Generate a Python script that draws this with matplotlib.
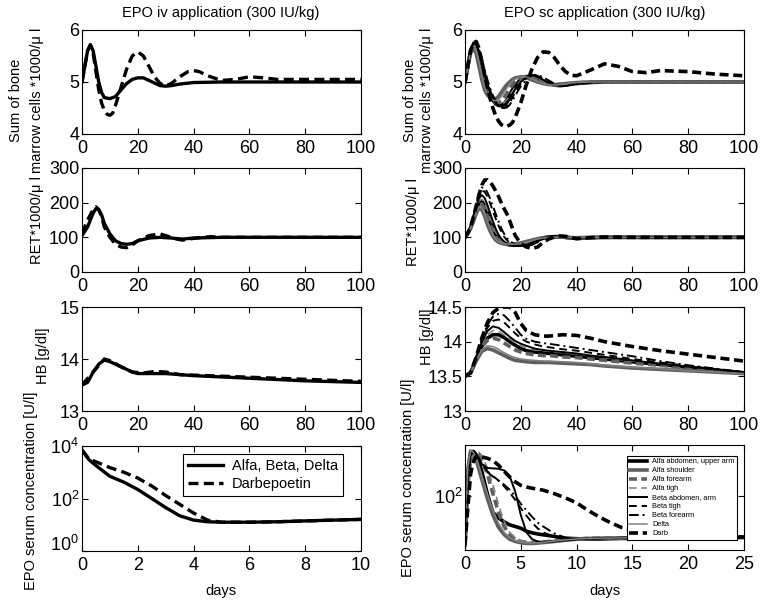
import matplotlib
matplotlib.use("Agg")
import matplotlib.pyplot as plt

plt.rcParams['font.family'] = ['Liberation Sans', 'DejaVu Sans']
plt.rcParams['mathtext.fontset'] = 'custom'
plt.rcParams['mathtext.rm'] = 'Liberation Sans'
plt.rcParams['mathtext.it'] = 'Liberation Sans:italic'

# ---------------- data: iv application (left column) ----------------
bm_iv_t_solid = [0, 1, 2, 3, 4, 5, 6, 7, 8, 10, 12, 14, 16, 18, 20, 22, 24, 26, 28, 30, 32, 35, 40, 50, 100]
bm_iv_solid = [5.0, 5.3, 5.6, 5.72, 5.6, 5.3, 5.0, 4.8, 4.7, 4.68, 4.72, 4.85, 4.97, 5.05, 5.08, 5.08, 5.03, 4.98, 4.93, 4.92, 4.93, 4.96, 4.99, 5.0, 5.0]
bm_iv_t_dash = [0, 1, 2, 3, 4, 5, 6, 7, 8, 9, 10, 11, 12, 14, 16, 18, 20, 22, 24, 26, 28, 30, 32, 35, 38, 40, 42, 45, 50, 55, 60, 65, 70, 80, 100]
bm_iv_dash = [5.0, 5.3, 5.6, 5.7, 5.55, 5.2, 4.85, 4.6, 4.45, 4.38, 4.36, 4.4, 4.55, 4.9, 5.25, 5.5, 5.58, 5.5, 5.3, 5.1, 4.97, 4.93, 4.97, 5.1, 5.2, 5.22, 5.2, 5.12, 5.03, 5.05, 5.1, 5.08, 5.05, 5.05, 5.05]

ret_iv_t_solid = [0, 2, 4, 5, 6, 7, 8, 10, 12, 14, 16, 18, 20, 24, 28, 32, 36, 40, 50, 100]
ret_iv_solid = [105, 130, 170, 183, 180, 165, 140, 110, 90, 82, 80, 82, 90, 98, 100, 98, 95, 98, 100, 100]
ret_iv_t_dash = [0, 2, 4, 5, 6, 7, 8, 10, 12, 14, 16, 18, 20, 24, 28, 30, 34, 36, 40, 46, 50, 100]
ret_iv_dash = [110, 150, 180, 188, 180, 160, 130, 100, 80, 72, 70, 78, 90, 105, 110, 105, 95, 92, 97, 102, 100, 100]

hb_iv_t_solid = [0, 2, 4, 6, 8, 10, 14, 18, 20, 25, 30, 40, 60, 80, 100]
hb_iv_solid = [13.5, 13.55, 13.75, 13.9, 13.98, 13.95, 13.85, 13.75, 13.72, 13.72, 13.72, 13.68, 13.63, 13.58, 13.55]
hb_iv_t_dash = [0, 4, 8, 10, 14, 18, 22, 26, 30, 35, 40, 60, 80, 100]
hb_iv_dash = [13.5, 13.75, 14.0, 13.97, 13.85, 13.75, 13.73, 13.76, 13.75, 13.7, 13.69, 13.65, 13.61, 13.57]

epo_iv_t = [0, 0.25, 0.5, 1, 1.5, 2, 2.5, 3, 3.5, 4, 4.5, 5, 6, 7, 8, 9, 10]
epo_iv_solid = [7000, 3000, 1800, 700, 420, 220, 100, 45, 22, 15, 13, 12.5, 12.5, 13, 14, 15, 16]
epo_iv_dash = [7000, 3200, 2500, 1500, 1000, 600, 300, 130, 60, 28, 15, 12.5, 12.5, 13, 14, 15, 16]

# ---------------- data: sc application (right column) ----------------
sc_names = ['Alfa abdomen, upper arm', 'Alfa shoulder', 'Alfa forearm', 'Alfa tigh',
            'Beta abdomen, arm', 'Beta tigh', 'Beta forearm', 'Delta', 'Darb']

bm_sc_t = [0, 1, 2, 3, 4, 5, 6, 7, 8, 9, 10, 11, 12, 13, 14, 15, 16, 17, 18, 20, 22, 24, 26, 28, 30,
           32, 34, 36, 38, 40, 45, 50, 55, 60, 65, 70, 80, 90, 100]
bm_sc = {
    'Alfa abdomen, upper arm': [5.0, 5.3, 5.6, 5.72, 5.7, 5.55, 5.3, 5.1, 4.9, 4.75, 4.65, 4.58, 4.55, 4.55, 4.58, 4.65, 4.75, 4.85, 4.93, 5.05, 5.1, 5.12, 5.08, 5.02, 4.97, 4.94, 4.93, 4.94, 4.96, 4.97, 4.99, 5.0, 5.0, 5.0, 5.0, 5.0, 5.0, 5.0, 5.0],
    'Alfa shoulder': [5.0, 5.3, 5.55, 5.65, 5.55, 5.3, 5.05, 4.85, 4.75, 4.7, 4.67, 4.68, 4.72, 4.8, 4.88, 4.95, 5.0, 5.05, 5.08, 5.1, 5.08, 5.04, 5.0, 4.97, 4.95, 4.95, 4.96, 4.97, 4.98, 4.99, 5.0, 5.0, 5.0, 5.0, 5.0, 5.0, 5.0, 5.0, 5.0],
    'Alfa forearm': [5.0, 5.3, 5.6, 5.7, 5.65, 5.45, 5.2, 5.0, 4.85, 4.72, 4.64, 4.6, 4.6, 4.63, 4.7, 4.78, 4.87, 4.95, 5.01, 5.08, 5.11, 5.09, 5.04, 4.99, 4.96, 4.94, 4.94, 4.95, 4.97, 4.98, 5.0, 5.0, 5.0, 5.0, 5.0, 5.0, 5.0, 5.0, 5.0],
    'Alfa tigh': [5.0, 5.3, 5.6, 5.72, 5.68, 5.5, 5.28, 5.06, 4.9, 4.76, 4.66, 4.6, 4.57, 4.57, 4.6, 4.66, 4.74, 4.83, 4.91, 5.03, 5.1, 5.11, 5.07, 5.01, 4.97, 4.94, 4.93, 4.94, 4.96, 4.97, 4.99, 5.0, 5.0, 5.0, 5.0, 5.0, 5.0, 5.0, 5.0],
    'Beta abdomen, arm': [5.0, 5.3, 5.62, 5.74, 5.72, 5.58, 5.36, 5.14, 4.95, 4.8, 4.68, 4.6, 4.55, 4.53, 4.54, 4.58, 4.66, 4.76, 4.86, 5.0, 5.1, 5.13, 5.1, 5.04, 4.98, 4.94, 4.93, 4.93, 4.95, 4.97, 4.99, 5.0, 5.0, 5.0, 5.0, 5.0, 5.0, 5.0, 5.0],
    'Beta tigh': [5.0, 5.3, 5.62, 5.75, 5.75, 5.62, 5.42, 5.2, 5.0, 4.84, 4.7, 4.6, 4.53, 4.5, 4.5, 4.53, 4.6, 4.7, 4.8, 4.97, 5.08, 5.14, 5.12, 5.06, 5.0, 4.95, 4.93, 4.93, 4.95, 4.97, 4.99, 5.0, 5.0, 5.0, 5.0, 5.0, 5.0, 5.0, 5.0],
    'Beta forearm': [5.0, 5.3, 5.63, 5.76, 5.76, 5.65, 5.46, 5.25, 5.05, 4.88, 4.74, 4.63, 4.55, 4.51, 4.5, 4.51, 4.56, 4.64, 4.74, 4.92, 5.05, 5.13, 5.14, 5.09, 5.03, 4.97, 4.94, 4.93, 4.94, 4.96, 4.99, 5.0, 5.0, 5.0, 5.0, 5.0, 5.0, 5.0, 5.0],
    'Delta': [5.0, 5.3, 5.58, 5.68, 5.6, 5.38, 5.12, 4.9, 4.78, 4.7, 4.65, 4.64, 4.66, 4.72, 4.8, 4.88, 4.96, 5.02, 5.06, 5.1, 5.1, 5.06, 5.01, 4.97, 4.95, 4.94, 4.95, 4.96, 4.98, 4.99, 5.0, 5.0, 5.0, 5.0, 5.0, 5.0, 5.0, 5.0, 5.0],
    'Darb': [5.0, 5.3, 5.6, 5.75, 5.78, 5.65, 5.4, 5.15, 4.9, 4.68, 4.5, 4.35, 4.25, 4.18, 4.15, 4.15, 4.17, 4.22, 4.32, 4.6, 4.95, 5.25, 5.47, 5.58, 5.57, 5.47, 5.32, 5.2, 5.13, 5.12, 5.23, 5.35, 5.3, 5.2, 5.18, 5.22, 5.2, 5.15, 5.12],
}

ret_sc_t = [0, 1, 2, 3, 4, 5, 6, 7, 8, 9, 10, 11, 12, 13, 14, 15, 16, 18, 20, 22, 24, 26, 28, 30, 32,
            34, 36, 38, 40, 45, 50, 60, 70, 80, 90, 100]
ret_sc = {
    'Alfa abdomen, upper arm': [100, 112, 128, 152, 180, 200, 204, 192, 170, 146, 125, 108, 96, 88, 83, 80, 78, 77, 78, 82, 88, 94, 98, 101, 102, 102, 100, 98, 97, 99, 100, 100, 100, 100, 100, 100],
    'Alfa shoulder': [100, 112, 125, 145, 168, 184, 180, 162, 138, 118, 103, 92, 86, 83, 81, 80, 80, 81, 84, 88, 92, 96, 99, 100, 101, 101, 100, 99, 99, 100, 100, 100, 100, 100, 100, 100],
    'Alfa forearm': [100, 112, 128, 150, 176, 194, 196, 182, 160, 137, 117, 102, 92, 86, 82, 80, 79, 78, 80, 84, 89, 94, 98, 100, 101, 101, 100, 99, 98, 99, 100, 100, 100, 100, 100, 100],
    'Alfa tigh': [100, 112, 128, 152, 182, 204, 210, 200, 180, 156, 133, 114, 100, 90, 84, 80, 78, 76, 77, 80, 86, 93, 98, 101, 102, 102, 100, 98, 97, 99, 100, 100, 100, 100, 100, 100],
    'Beta abdomen, arm': [100, 112, 130, 156, 188, 212, 222, 214, 194, 170, 146, 125, 108, 96, 88, 82, 78, 75, 75, 78, 84, 92, 98, 102, 103, 102, 100, 98, 97, 99, 100, 100, 100, 100, 100, 100],
    'Beta tigh': [100, 112, 130, 158, 192, 220, 234, 232, 218, 198, 176, 154, 134, 116, 102, 92, 85, 78, 75, 75, 80, 88, 96, 101, 104, 103, 101, 98, 97, 99, 100, 100, 100, 100, 100, 100],
    'Beta forearm': [100, 112, 131, 160, 196, 228, 244, 242, 230, 212, 190, 168, 146, 126, 110, 98, 89, 80, 76, 75, 78, 86, 95, 101, 104, 104, 101, 98, 97, 99, 100, 100, 100, 100, 100, 100],
    'Delta': [100, 112, 127, 148, 172, 188, 186, 168, 145, 124, 107, 95, 88, 84, 82, 81, 80, 80, 82, 86, 91, 95, 98, 100, 101, 101, 100, 99, 99, 100, 100, 100, 100, 100, 100, 100],
    'Darb': [100, 112, 130, 158, 190, 222, 250, 265, 266, 260, 248, 234, 218, 200, 183, 168, 148, 105, 82, 72, 68, 72, 85, 95, 101, 104, 103, 99, 96, 99, 101, 100, 100, 100, 100, 100],
}

hb_sc_t = [0, 2, 4, 6, 8, 10, 12, 14, 16, 18, 20, 22, 25, 28, 30, 35, 40, 45, 50, 60, 70, 80, 90, 100]
hb_sc = {
    'Alfa abdomen, upper arm': [13.5, 13.55, 13.74, 13.93, 14.05, 14.1, 14.1, 14.06, 14.0, 13.95, 13.9, 13.87, 13.85, 13.84, 13.83, 13.81, 13.79, 13.77, 13.75, 13.71, 13.67, 13.63, 13.59, 13.55],
    'Alfa shoulder': [13.5, 13.55, 13.72, 13.86, 13.9, 13.88, 13.84, 13.8, 13.76, 13.73, 13.72, 13.71, 13.7, 13.7, 13.7, 13.69, 13.68, 13.67, 13.65, 13.62, 13.6, 13.58, 13.56, 13.54],
    'Alfa forearm': [13.5, 13.55, 13.74, 13.92, 14.02, 14.05, 14.03, 13.98, 13.93, 13.88, 13.85, 13.83, 13.81, 13.8, 13.8, 13.78, 13.77, 13.75, 13.73, 13.69, 13.66, 13.62, 13.59, 13.55],
    'Alfa tigh': [13.5, 13.55, 13.75, 13.96, 14.1, 14.16, 14.15, 14.1, 14.04, 13.98, 13.94, 13.91, 13.88, 13.87, 13.86, 13.84, 13.82, 13.8, 13.77, 13.72, 13.68, 13.64, 13.6, 13.56],
    'Beta abdomen, arm': [13.5, 13.55, 13.76, 13.99, 14.15, 14.22, 14.2, 14.14, 14.07, 14.01, 13.97, 13.94, 13.9, 13.88, 13.87, 13.85, 13.83, 13.8, 13.78, 13.73, 13.68, 13.64, 13.6, 13.56],
    'Beta tigh': [13.5, 13.55, 13.77, 14.02, 14.2, 14.3, 14.32, 14.28, 14.2, 14.12, 14.05, 14.0, 13.96, 13.93, 13.92, 13.89, 13.87, 13.84, 13.81, 13.75, 13.7, 13.65, 13.6, 13.56],
    'Beta forearm': [13.5, 13.55, 13.78, 14.04, 14.24, 14.36, 14.4, 14.38, 14.3, 14.2, 14.1, 14.04, 14.0, 13.98, 13.97, 13.94, 13.91, 13.88, 13.85, 13.79, 13.72, 13.66, 13.61, 13.56],
    'Delta': [13.5, 13.55, 13.73, 13.88, 13.94, 13.93, 13.89, 13.84, 13.8, 13.77, 13.75, 13.74, 13.73, 13.72, 13.72, 13.71, 13.7, 13.68, 13.66, 13.63, 13.61, 13.58, 13.56, 13.54],
    'Darb': [13.5, 13.55, 13.78, 14.05, 14.27, 14.42, 14.48, 14.5, 14.5, 14.42, 14.26, 14.16, 14.1, 14.08, 14.08, 14.1, 14.09, 14.05, 14.0, 13.93, 13.87, 13.82, 13.77, 13.72],
}

epo_sc_t = [0, 0.25, 0.5, 0.75, 1, 1.25, 1.5, 2, 2.5, 3, 3.5, 4, 4.5, 5, 5.5, 6, 6.5, 7, 8, 9, 10,
            11, 12, 13, 14, 15, 16, 18, 20, 22, 25]
epo_sc = {
    'Alfa abdomen, upper arm': [13, 250, 600, 640, 560, 420, 280, 110, 50, 40, 34, 30, 28, 26, 23, 21.5, 20.5, 19.8, 18.5, 17.2, 16.8, 16.6, 16.6, 16.8, 17, 17, 17.2, 17.3, 17.5, 17.6, 17.8],
    'Alfa shoulder': [13, 300, 650, 600, 450, 300, 200, 90, 45, 27, 20, 16.5, 15, 14.2, 13.8, 13.8, 14, 14.3, 15, 15.8, 16.5, 17, 17.2, 17.3, 17.4, 17.5, 17.5, 17.5, 17.5, 17.6, 17.8],
    'Alfa forearm': [13, 150, 450, 600, 620, 560, 450, 250, 110, 50, 28, 20, 16.5, 15, 14.5, 14.3, 14.4, 14.7, 15.3, 16, 16.6, 17, 17.2, 17.3, 17.4, 17.5, 17.5, 17.5, 17.5, 17.6, 17.8],
    'Alfa tigh': [13, 120, 400, 580, 640, 620, 540, 330, 160, 70, 35, 22, 17.5, 15.5, 14.8, 14.5, 14.5, 14.8, 15.3, 16, 16.6, 17, 17.2, 17.3, 17.4, 17.5, 17.5, 17.5, 17.5, 17.6, 17.8],
    'Beta abdomen, arm': [13, 250, 620, 650, 560, 450, 380, 320, 315, 310, 290, 230, 120, 45, 22, 16.5, 15, 14.8, 15, 15.7, 16.4, 16.8, 17.1, 17.3, 17.4, 17.5, 17.5, 17.5, 17.5, 17.6, 17.8],
    'Beta tigh': [13, 200, 550, 620, 600, 480, 380, 280, 230, 190, 150, 115, 85, 60, 44, 33, 26, 22, 18, 16.5, 16.4, 16.8, 17.1, 17.3, 17.4, 17.5, 17.5, 17.5, 17.5, 17.6, 17.8],
    'Beta forearm': [13, 180, 500, 600, 560, 460, 380, 270, 224, 190, 160, 130, 100, 72, 55, 42, 33, 28, 21, 17.5, 16.5, 16.8, 17.1, 17.3, 17.4, 17.5, 17.5, 17.5, 17.5, 17.6, 17.8],
    'Delta': [13, 320, 660, 620, 480, 340, 230, 110, 55, 32, 22, 17.5, 15.5, 14.5, 14, 14, 14.2, 14.5, 15.2, 16, 16.6, 17, 17.2, 17.3, 17.4, 17.5, 17.5, 17.5, 17.5, 17.6, 17.8],
    'Darb': [13, 60, 250, 420, 520, 540, 510, 480, 440, 360, 280, 220, 180, 155, 145, 138, 132, 127, 110, 92, 75, 55, 42, 33, 27, 24, 22, 20, 19, 18.5, 18],
}

# ---------------- styles ----------------
G1 = '#5f5f5f'
G2 = '#7f7f7f'
styles = {
    'Alfa abdomen, upper arm': dict(color='black', lw=2.6, ls='-'),
    'Alfa shoulder': dict(color=G1, lw=2.6, ls='-'),
    'Alfa forearm': dict(color=G1, lw=2.6, ls=(0, (2.2, 1.2))),
    'Alfa tigh': dict(color=G2, lw=1.1, ls=(0, (5, 3))),
    'Beta abdomen, arm': dict(color='black', lw=1.4, ls='-'),
    'Beta tigh': dict(color='black', lw=1.4, ls=(0, (4, 2.5))),
    'Beta forearm': dict(color='black', lw=1.4, ls=(0, (5, 2, 1, 2))),
    'Delta': dict(color=G2, lw=1.1, ls='-'),
    'Darb': dict(color='black', lw=2.6, ls=(0, (2.5, 1.3))),
}

W, H = 760, 606
fig = plt.figure(figsize=(W / 100, H / 100), dpi=100)


def add_ax(x0, x1, ytop, ybot):
    return fig.add_axes([x0 / W, 1 - ybot / H, (x1 - x0) / W, (ybot - ytop) / H])


def style_ax(ax):
    ax.tick_params(direction='in', top=True, right=True, length=4, width=0.8,
                   labelsize=13)
    ax.tick_params(axis='y', pad=2)
    ax.tick_params(axis='x', pad=4.5)
    for s in ax.spines.values():
        s.set_linewidth(0.8)


LX0, LX1 = 82, 361
RX0, RX1 = 465, 744
rows = [(30, 134), (168, 272), (307, 411), (446, 551)]
DASH = (0, (3, 1.6))

# left column
ax = add_ax(LX0, LX1, *rows[0])
ax.plot(bm_iv_t_solid, bm_iv_solid, color='black', lw=2.4)
ax.plot(bm_iv_t_dash, bm_iv_dash, color='black', lw=2.4, ls=DASH)
ax.set_xlim(0, 100); ax.set_ylim(4, 6); ax.set_yticks([4, 5, 6]); ax.set_xticks(range(0, 101, 20))
style_ax(ax)

ax = add_ax(LX0, LX1, *rows[1])
ax.plot(ret_iv_t_solid, ret_iv_solid, color='black', lw=2.4)
ax.plot(ret_iv_t_dash, ret_iv_dash, color='black', lw=2.4, ls=DASH)
ax.set_xlim(0, 100); ax.set_ylim(0, 300); ax.set_yticks([0, 100, 200, 300]); ax.set_xticks(range(0, 101, 20))
style_ax(ax)

ax = add_ax(LX0, LX1, *rows[2])
ax.plot(hb_iv_t_solid, hb_iv_solid, color='black', lw=2.4)
ax.plot(hb_iv_t_dash, hb_iv_dash, color='black', lw=2.4, ls=DASH)
ax.set_xlim(0, 100); ax.set_ylim(13, 15); ax.set_yticks([13, 14, 15]); ax.set_xticks(range(0, 101, 20))
style_ax(ax)

ax = add_ax(LX0, LX1, *rows[3])
ax.semilogy(epo_iv_t, epo_iv_solid, color='black', lw=2.4, label='Alfa, Beta, Delta')
ax.semilogy(epo_iv_t, epo_iv_dash, color='black', lw=2.4, ls=DASH, label='Darbepoetin')
ax.set_xlim(0, 10); ax.set_ylim(1, 1e4)
ax.set_yticks([1, 100, 1e4]); ax.set_yticklabels(['$10^{0}$', '$10^{2}$', '$10^{4}$'])
ax.minorticks_off()
ax.set_xticks(range(0, 11, 2))
style_ax(ax)
ax.yaxis.get_major_ticks()[0].label1.set_va('baseline')
leg = ax.legend(loc='upper right', bbox_to_anchor=(0.935, 0.925), borderaxespad=0,
                fontsize=10.5, frameon=True,
                fancybox=False, edgecolor='black', framealpha=1, handlelength=2.4,
                borderpad=0.35, labelspacing=0.25, handletextpad=0.6)
leg.get_frame().set_linewidth(0.8)

# right column
ax = add_ax(RX0, RX1, *rows[0])
for n in sc_names:
    ax.plot(bm_sc_t, bm_sc[n], **styles[n])
ax.set_xlim(0, 100); ax.set_ylim(4, 6); ax.set_yticks([4, 5, 6]); ax.set_xticks(range(0, 101, 20))
style_ax(ax)

ax = add_ax(RX0, RX1, *rows[1])
for n in sc_names:
    ax.plot(ret_sc_t, ret_sc[n], **styles[n])
ax.set_xlim(0, 100); ax.set_ylim(0, 300); ax.set_yticks([0, 100, 200, 300]); ax.set_xticks(range(0, 101, 20))
style_ax(ax)

ax = add_ax(RX0, RX1, *rows[2])
for n in sc_names:
    ax.plot(hb_sc_t, hb_sc[n], **styles[n])
ax.set_xlim(0, 100); ax.set_ylim(13, 14.5)
ax.set_yticks([13, 13.5, 14, 14.5]); ax.set_yticklabels(['13', '13.5', '14', '14.5'])
ax.set_xticks(range(0, 101, 20))
style_ax(ax)

ax = add_ax(RX0, RX1, 445, 550)
for n in sc_names:
    ax.semilogy(epo_sc_t, epo_sc[n], label=n, **styles[n])
ax.set_xlim(0, 25); ax.set_ylim(10.5, 835)
ax.set_yticks([100]); ax.set_yticklabels(['$10^{2}$'])
ax.minorticks_off()
ax.set_xticks(range(0, 26, 5))
style_ax(ax)
leg = ax.legend(loc='upper right', bbox_to_anchor=(0.975, 0.895), borderaxespad=0,
                fontsize=5.3, frameon=True,
                fancybox=False, edgecolor='black', framealpha=1, handlelength=2.4,
                borderpad=0.3, labelspacing=0.25, handletextpad=0.8)
leg.get_frame().set_linewidth(0.8)


def ftext(x, y, s, **kw):
    fig.text(x / W, 1 - y / H, s, ha='center', va='center', **kw)


# titles
ftext(221, 13, 'EPO iv application (300 IU/kg)', fontsize=10.5)
ftext(605, 13, 'EPO sc application (300 IU/kg)', fontsize=10.5)

# y labels
lab_fs = 10.5
ftext(16, 100, 'Sum of bone', rotation=90, fontsize=lab_fs)
ftext(37, 100, 'marrow cells *1000/\u03bc l', rotation=90, fontsize=lab_fs)
ftext(410, 100, 'Sum of bone', rotation=90, fontsize=lab_fs)
ftext(427, 100, 'marrow cells *1000/\u03bc l', rotation=90, fontsize=lab_fs)
ftext(37, 220, 'RET*1000/\u03bc l', rotation=90, fontsize=lab_fs)
ftext(413, 222, 'RET*1000/\u03bc l', rotation=90, fontsize=lab_fs)
ftext(43, 356, 'HB [g/dl]', rotation=90, fontsize=lab_fs)
ftext(427, 337, 'HB [g/dl]', rotation=90, fontsize=lab_fs)
ftext(31, 491, 'EPO serum concentration [U/l]', rotation=90, fontsize=lab_fs)
ftext(408, 478, 'EPO serum concentration [U/l]', rotation=90, fontsize=lab_fs)

# x labels
ftext(221, 591, 'days', fontsize=10.5)
ftext(605, 591, 'days', fontsize=10.5)

fig.savefig('out.png', dpi=100)
